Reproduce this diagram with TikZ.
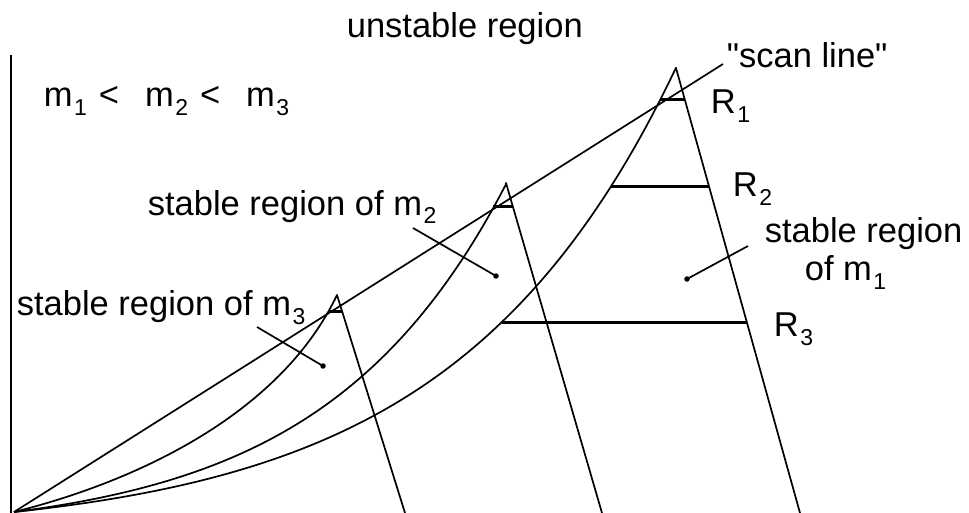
\documentclass[tikz,border=0pt]{standalone}
\usepackage{fontspec}
\setmainfont{Liberation Sans}[Ligatures=TeXOff]
\newcommand{\mysub}[1]{\hspace{1.5pt}\raisebox{-9pt}{\fontsize{23}{23}\selectfont #1}}
\begin{document}
\begin{tikzpicture}[x=1pt,y=-1pt,line width=1.7pt,line join=round,
  lbl/.style={anchor=base west,inner sep=0pt,font=\fontsize{34.5}{40}\selectfont},
  bar/.style={line width=3pt},
  axis/.style={line width=2.8pt},
  dotmark/.style={circle,fill=black,inner sep=0pt,minimum size=5.5pt}]
\useasboundingbox (0,0) rectangle (969,513);
% key points
\coordinate (O) at (14,512);
\coordinate (axtop) at (11,55);
\coordinate (axbot) at (11,513);
\coordinate (scanend) at (723,64);
\coordinate (p3) at (337,295);
\coordinate (b3) at (405,513);
\coordinate (p2) at (506,183);
\coordinate (b2) at (602,513);
\coordinate (p1) at (676,68);
\coordinate (b1) at (800,513);
% axis
\draw[axis] (axtop) -- (axbot);
% scan line
\draw (O) -- (scanend);
% m3 region
\draw (O) .. controls (144,479.5) and (282,410.5) .. (p3) -- (b3);
% m2 region
\draw plot[domain=0:492,samples=90] ({14+\x},{512-23.55*(exp(0.0055*\x)-1)}) -- (p2) -- (b2);
% m1 region
\draw plot[domain=0:662,samples=110] ({14+\x},{512-23.78*(exp(0.0045*\x)-1)}) -- (p1) -- (b1);
% bars
\coordinate (m3l) at (328.5,311); \coordinate (m3r) at (342,311);
\coordinate (m2l) at (493.2,207); \coordinate (m2r) at (513,207);
\coordinate (r1l) at (660.4,100); \coordinate (r1r) at (684.9,100);
\coordinate (r2l) at (610.8,187); \coordinate (r2r) at (709.2,187);
\coordinate (r3l) at (502,322); \coordinate (r3r) at (746.8,322);
\draw[bar] (m3l) -- (m3r);
\draw[bar] (m2l) -- (m2r);
\draw[bar] (r1l) -- (r1r);
\draw[bar] (r2l) -- (r2r);
\draw[bar] (r3l) -- (r3r);
% texts
\node[lbl] (unst) at (346,38) {unstable region};
\node[lbl] (ineq) at (43,107) {m\mysub{1}\hspace{12pt}<\hspace{26pt}m\mysub{2}\hspace{12pt}<\hspace{26pt}m\mysub{3}};
\node[lbl] (scan) at (726,68) {"scan line"};
\node[lbl] (R1) at (710,114) {R\mysub{1}};
\node[lbl] (R2) at (732,197) {R\mysub{2}};
\node[lbl] (R3) at (773,336) {R\mysub{3}};
\node[lbl] (s1a) at (764,243) {stable region};
\node[lbl] (s1b) at (804,280) {of m\mysub{1}};
\node[lbl] (s2) at (147,215) {stable region of m\mysub{2}};
\node[lbl] (s3) at (16,315) {stable region of m\mysub{3}};
% leaders
\node[dotmark] (d3) at (323,366) {};
\node[dotmark] (d2) at (496,276) {};
\node[dotmark] (d1) at (687,279) {};
\coordinate (l3) at (257,327);
\coordinate (l2) at (413,228);
\coordinate (l1) at (748,246);
\draw (l3) -- (d3.center);
\draw (l2) -- (d2.center);
\draw (l1) -- (d1.center);
\end{tikzpicture}
\end{document}
